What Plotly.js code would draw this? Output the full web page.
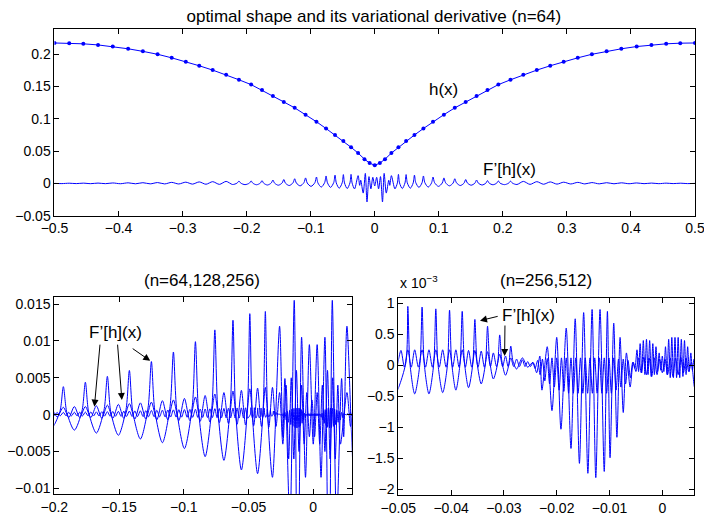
<!DOCTYPE html>
<html>
<head>
<meta charset="utf-8">
<script src="https://cdn.plot.ly/plotly-3.0.1.min.js"></script>
<style>html,body{margin:0;padding:0;background:#fff}#chart{width:704px;height:523px}</style>
</head>
<body>
<div id="chart"></div>
<script>
// ---------- data ----------
const hX = [-0.5,-0.477,-0.455,-0.432,-0.409,-0.385,-0.362,-0.339,-0.317,-0.295,-0.274,-0.253,-0.232,-0.212,-0.193,-0.176,-0.159,-0.142,-0.125,-0.108,-0.091,-0.076,-0.062,-0.049,-0.037,-0.026,-0.016,-0.008,0,
  0.008,0.016,0.026,0.037,0.049,0.062,0.076,0.091,0.108,0.125,0.142,0.159,0.176,0.193,0.212,0.232,0.253,0.274,0.295,0.317,0.339,0.362,0.385,0.409,0.432,0.455,0.477,0.5];
const hY = [0.2175,0.2172,0.2162,0.2145,0.2120,0.2085,0.2045,0.2000,0.1945,0.1885,0.1822,0.1755,0.1683,0.1605,0.1530,0.1445,0.1355,0.1262,0.1170,0.1065,0.0955,0.0850,0.0750,0.0655,0.0560,0.0470,0.0375,0.0315,0.0280,
  0.0315,0.0375,0.0470,0.0560,0.0655,0.0750,0.0850,0.0955,0.1065,0.1170,0.1262,0.1355,0.1445,0.1530,0.1605,0.1683,0.1755,0.1822,0.1885,0.1945,0.2000,0.2045,0.2085,0.2120,0.2145,0.2162,0.2172,0.2175];

// F'[h](x) for n=64 : [x, value]
const F64 = [
 [-0.5,0.0000],[-0.4885,-0.0003],[-0.477,0.0003],[-0.466,-0.0003],[-0.455,0.0004],[-0.4435,-0.0004],[-0.432,0.0005],[-0.4205,-0.0004],
 [-0.409,0.0007],[-0.397,-0.0005],[-0.385,0.0009],[-0.3735,-0.0006],[-0.362,0.0011],[-0.3505,-0.0007],[-0.339,0.0013],[-0.328,-0.0008],
 [-0.317,0.0016],[-0.306,-0.0009],[-0.295,0.0019],[-0.2845,-0.0011],[-0.274,0.0023],[-0.2635,-0.0013],[-0.253,0.0027],[-0.2425,-0.0015],
 [-0.232,0.0031],[-0.222,-0.0017],
 [-0.215,0.0004],[-0.212,0.0035],[-0.209,0.0003],[-0.2025,-0.0019],
 [-0.1957,0.0004],[-0.193,0.0038],[-0.1903,0.0003],[-0.1845,-0.0021],
 [-0.1786,0.0005],[-0.176,0.0044],[-0.1734,0.0003],[-0.1675,-0.0025],
 [-0.1616,0.0006],[-0.159,0.0052],[-0.1564,0.0004],[-0.1505,-0.0028],
 [-0.1446,0.0007],[-0.142,0.0060],[-0.1394,0.0004],[-0.1335,-0.0033],
 [-0.1276,0.0009],[-0.125,0.0072],[-0.1224,0.0006],[-0.1165,-0.0038],
 [-0.1106,0.0011],[-0.108,0.0085],[-0.1054,0.0006],[-0.0995,-0.0046],
 [-0.0934,0.0012],[-0.091,0.0099],[-0.0886,0.0005],[-0.0835,-0.0057],
 [-0.0782,0.0012],[-0.076,0.0115],[-0.0738,0.0009],[-0.069,-0.0062],
 [-0.064,0.0014],[-0.062,0.0128],[-0.060,0.0006],[-0.0555,-0.0075],
 [-0.0508,0.0010],[-0.049,0.0137],[-0.0472,0.0007],[-0.043,-0.0080],
 [-0.0387,0.0008],[-0.037,0.0140],[-0.0353,0.0005],[-0.0315,-0.0085],
 [-0.026,0.0120],[-0.0235,-0.0030],[-0.0219,0.0049],[-0.018,-0.0150],[-0.0147,0.0155],[-0.0121,-0.0287],[-0.009,0.0105],[-0.006,-0.0085],
 [-0.003,0.0095],[0,-0.0040],[0.003,0.0095],[0.006,-0.0085],[0.009,0.0105],[0.0121,-0.0287],[0.0147,0.0155],[0.018,-0.0150],
 [0.0219,0.0049],[0.0235,-0.0030],[0.026,0.0120],
 [0.0315,-0.0085],[0.0353,0.0005],[0.037,0.0140],[0.0387,0.0008],
 [0.043,-0.0080],[0.0472,0.0007],[0.049,0.0137],[0.0508,0.0010],
 [0.0555,-0.0075],[0.060,0.0006],[0.062,0.0128],[0.064,0.0014],
 [0.069,-0.0062],[0.0738,0.0009],[0.076,0.0115],[0.0782,0.0012],
 [0.0835,-0.0057],[0.0886,0.0005],[0.091,0.0099],[0.0934,0.0012],
 [0.0995,-0.0046],[0.1054,0.0006],[0.108,0.0085],[0.1106,0.0011],
 [0.1165,-0.0038],[0.1224,0.0006],[0.125,0.0072],[0.1276,0.0009],
 [0.1335,-0.0033],[0.1394,0.0004],[0.142,0.0060],[0.1446,0.0007],
 [0.1505,-0.0028],[0.1564,0.0004],[0.159,0.0052],[0.1616,0.0006],
 [0.1675,-0.0025],[0.1734,0.0003],[0.176,0.0044],[0.1786,0.0005],
 [0.1845,-0.0021],[0.1903,0.0003],[0.193,0.0038],[0.1957,0.0004],
 [0.2025,-0.0019],[0.209,0.0003],[0.212,0.0035],[0.215,0.0004],
 [0.222,-0.0017],[0.232,0.0031],[0.2425,-0.0015],[0.253,0.0027],[0.2635,-0.0013],[0.274,0.0023],[0.2845,-0.0011],[0.295,0.0019],[0.306,-0.0009],
 [0.317,0.0016],[0.328,-0.0008],[0.339,0.0013],[0.3505,-0.0007],[0.362,0.0011],[0.3735,-0.0006],[0.385,0.0009],[0.397,-0.0005],
 [0.409,0.0007],[0.4205,-0.0004],[0.432,0.0005],[0.4435,-0.0004],[0.455,0.0004],[0.466,-0.0003],[0.477,0.0003],[0.4885,-0.0003],[0.5,0.0000]
];

// n=128
const F128 = [
 [-0.212,0.0008],[-0.2073,-0.0003],[-0.2025,0.0009],[-0.1978,-0.0003],[-0.193,0.0010],[-0.1888,-0.0004],[-0.1845,0.0011],[-0.1803,-0.0004],
 [-0.176,0.0011],[-0.1718,-0.0004],[-0.1675,0.0012],[-0.1633,-0.0005],[-0.159,0.0013],[-0.1548,-0.0005],[-0.1505,0.0014],[-0.1463,-0.0005],
 [-0.142,0.0015],[-0.1378,-0.0006],[-0.1335,0.0016],[-0.1293,-0.0006],[-0.125,0.0017],[-0.1208,-0.0007],[-0.1165,0.0019],[-0.1123,-0.0007],
 [-0.108,0.0020],[-0.1038,-0.0008],[-0.0995,0.0022],[-0.0953,-0.0008],[-0.091,0.0024],[-0.0873,-0.0009],[-0.0835,0.0026],[-0.0798,-0.0010],
 [-0.076,0.0028],[-0.0725,-0.0011],[-0.069,0.0030],[-0.0655,-0.0012],[-0.062,0.0032],[-0.0588,-0.0013],[-0.0555,0.0033],[-0.0523,-0.0014],
 [-0.049,0.0035],[-0.046,-0.0015],[-0.043,0.0036],[-0.040,-0.0016],[-0.037,0.0037],[-0.0343,-0.0017],[-0.0315,0.0037],[-0.0288,-0.0016],
 [-0.026,0.0030],[-0.0235,-0.0040],[-0.021,0.0040],[-0.019,-0.0060],[-0.017,0.0050],[-0.015,-0.0060],[-0.013,0.0060],[-0.011,-0.0050],
 [-0.009,0.0040],[-0.007,-0.0040],[-0.005,0.0030],[-0.003,-0.0030],[-0.001,0.0020],[0.001,-0.0030],[0.003,0.0030],[0.005,-0.0040],
 [0.007,0.0040],[0.009,-0.0050],[0.011,0.0060],[0.013,-0.0060],[0.015,0.0050],[0.017,-0.0060],[0.019,0.0040],[0.021,-0.0040],
 [0.026,0.0030],[0.0288,-0.0016],[0.0315,0.0037]
];

// n=256
const F256 = [
 [-0.2073,0.00028],[-0.2049,-0.00014],[-0.2025,0.00029],[-0.2002,-0.00015],[-0.1978,0.00030],[-0.1954,-0.00015],[-0.193,0.00031],[-0.1909,-0.00016],
 [-0.1888,0.00032],[-0.1867,-0.00016],[-0.1845,0.00033],[-0.1824,-0.00017],[-0.1803,0.00034],[-0.1782,-0.00017],[-0.176,0.00035],[-0.1739,-0.00018],
 [-0.1718,0.00037],[-0.1697,-0.00018],[-0.1675,0.00038],[-0.1654,-0.00019],[-0.1633,0.00040],[-0.1612,-0.00020],[-0.159,0.00041],[-0.1569,-0.00021],
 [-0.1548,0.00043],[-0.1527,-0.00022],[-0.1505,0.00045],[-0.1484,-0.00023],[-0.1463,0.00047],[-0.1442,-0.00024],[-0.142,0.00049],[-0.1399,-0.00025],
 [-0.1378,0.00051],[-0.1357,-0.00026],[-0.1335,0.00053],[-0.1314,-0.00027],[-0.1293,0.00055],[-0.1272,-0.00028],[-0.125,0.00057],[-0.1229,-0.00029],
 [-0.1208,0.00059],[-0.1187,-0.00030],[-0.1165,0.00061],[-0.1144,-0.00031],[-0.1123,0.00063],[-0.1102,-0.00032],[-0.108,0.00065],[-0.1059,-0.00033],
 [-0.1038,0.00067],[-0.1017,-0.00034],[-0.0995,0.00069],[-0.0974,-0.00035],[-0.0953,0.00071],[-0.0932,-0.00036],[-0.091,0.00073],[-0.0892,-0.00037],
 [-0.0873,0.00075],[-0.0854,-0.00038],[-0.0835,0.00077],[-0.0817,-0.00039],[-0.0798,0.00079],[-0.0779,-0.00040],[-0.076,0.00081],[-0.0743,-0.00041],
 [-0.0725,0.00083],[-0.0708,-0.00042],[-0.069,0.00085],[-0.0673,-0.00043],[-0.0655,0.00087],[-0.0638,-0.00044],[-0.062,0.00089],[-0.0604,-0.00045],
 [-0.0588,0.00091],[-0.0572,-0.00046],[-0.0555,0.00092],[-0.0539,-0.00046],[-0.0523,0.00093],[-0.0507,-0.00047],
 [-0.0486,0.00003],[-0.0482,0.00095],[-0.0478,0.00003],[-0.0469,-0.00046],
 [-0.0459,0.00003],[-0.0455,0.00094],[-0.0451,0.00003],[-0.0442,-0.00046],
 [-0.0433,0.00002],[-0.0429,0.00091],[-0.0425,0.00003],[-0.0416,-0.00044],
 [-0.0407,0.00000],[-0.0403,0.00089],[-0.0399,0.00005],[-0.0391,-0.00040],
 [-0.0383,0.00004],[-0.0379,0.00087],[-0.0375,0.00007],[-0.0367,-0.00036],
 [-0.0359,0.00002],[-0.0355,0.00074],[-0.0351,0.00006],[-0.0343,-0.00030],
 [-0.0335,0.00003],[-0.0331,0.00063],[-0.0327,0.00008],[-0.0320,-0.00022],
 [-0.0312,0.00003],[-0.0308,0.00049],[-0.0304,0.00007],[-0.0297,-0.00016],
 [-0.0291,0.00000],[-0.0287,0.00031],[-0.0283,0.00007],[-0.0276,-0.00006],
 [-0.0265,0.00012],[-0.0255,-0.00003],[-0.0245,0.00005],[-0.0238,-0.00012],[-0.0232,0.00015],[-0.0228,-0.00040],
 [-0.0218,0.00030],[-0.0209,-0.00073],[-0.0200,0.00045],[-0.0192,-0.00103],[-0.0182,0.00060],[-0.0173,-0.00134],[-0.0165,0.00075],[-0.0157,-0.00158],
 [-0.0149,0.00085],[-0.0141,-0.00174],[-0.0133,0.00090],[-0.0126,-0.00181],[-0.0118,0.00090],[-0.0110,-0.00171],[-0.0104,0.00087],[-0.0099,-0.00149],
 [-0.0092,0.00068],[-0.0086,-0.00116],[-0.0080,0.00045],[-0.0074,-0.00076],[-0.0068,0.00020],[-0.0061,-0.00035],[-0.0055,0.00005],
 [-0.0050,-0.00010],[-0.0045,0.00012],[-0.0040,-0.00012],[-0.0035,0.00013],[-0.0030,-0.00015],[-0.0025,0.00012],[-0.0020,-0.00018],[-0.0015,0.00012],
 [-0.0010,-0.00015],[-0.0005,0.00010],[0,-0.00012],[0.0005,0.00010],[0.0010,-0.00015],[0.0015,0.00012],[0.0020,-0.00018],[0.0025,0.00012],
 [0.0030,-0.00015],[0.0035,0.00013],[0.0040,-0.00012],[0.0045,0.00012],[0.0050,-0.00010],
 [0.0055,0.00005],[0.0061,-0.00035],[0.0068,0.00020],[0.0074,-0.00076],[0.0080,0.00045],[0.0086,-0.00116],[0.0092,0.00068],[0.0099,-0.00149],
 [0.0104,0.00087],[0.0110,-0.00171],[0.0118,0.00090],[0.0126,-0.00181],[0.0133,0.00090],[0.0141,-0.00174],[0.0149,0.00085],[0.0157,-0.00158],
 [0.0165,0.00075],[0.0173,-0.00134],[0.0182,0.00060],[0.0192,-0.00103],[0.0200,0.00045],[0.0209,-0.00073],[0.0218,0.00030],[0.0228,-0.00040],
 [0.0232,0.00015],[0.0238,-0.00012],[0.0245,0.00005],[0.0255,-0.00003],[0.0265,0.00012],[0.0276,-0.00006],[0.0287,0.00031],[0.0297,-0.00016],[0.0308,0.00049]
];

// n=512
const F512 = [
 [-0.0502,-0.00002],[-0.0495,0.00024],[-0.04885,-0.00003],[-0.0482,0.00025],[-0.04755,-0.00003],[-0.0469,0.00025],[-0.0462,-0.00003],[-0.0455,0.00025],
 [-0.04485,-0.00003],[-0.0442,0.00025],[-0.04355,-0.00003],[-0.0429,0.00025],[-0.04225,-0.00003],[-0.0416,0.00025],[-0.04095,-0.00003],[-0.0403,0.00025],
 [-0.0397,-0.00003],[-0.0391,0.00025],[-0.0385,-0.00003],[-0.0379,0.00025],[-0.0373,-0.00003],[-0.0367,0.00024],[-0.0361,-0.00003],[-0.0355,0.00024],
 [-0.0349,-0.00003],[-0.0343,0.00023],[-0.0337,-0.00003],[-0.0331,0.00022],[-0.03255,-0.00002],[-0.0320,0.00020],[-0.0314,-0.00002],[-0.0308,0.00018],
 [-0.03025,-0.00002],[-0.0297,0.00015],[-0.0292,-0.00002],[-0.0287,0.00012],[-0.02815,-0.00002],[-0.0276,0.00010],[-0.02705,-0.00002],[-0.0265,0.00009],
 [-0.0260,-0.00002],[-0.0255,0.00006],[-0.0250,-0.00002],[-0.0245,0.00004],[-0.0241,-0.00005],
 [-0.0236,0.00008],[-0.02315,-0.00015],[-0.0227,0.00010],[-0.02225,-0.00025],[-0.0218,0.00011],[-0.02135,-0.00030],[-0.0209,0.00012],[-0.02045,-0.00035],
 [-0.0200,0.00012],[-0.01955,-0.00040],[-0.0191,0.00012],[-0.01865,-0.00042],[-0.0182,0.00012],[-0.01775,-0.00045],[-0.0173,0.00012],[-0.01685,-0.00045],
 [-0.0164,0.00012],[-0.01595,-0.00045],[-0.0155,0.00012],[-0.01505,-0.00045],[-0.0146,0.00012],[-0.01415,-0.00045],[-0.0137,0.00012],[-0.01325,-0.00045],
 [-0.0128,0.00012],[-0.01235,-0.00045],[-0.0119,0.00012],[-0.01145,-0.00045],[-0.0110,0.00012],[-0.01055,-0.00045],[-0.0101,0.00012],[-0.00965,-0.00045],
 [-0.0092,0.00012],[-0.00875,-0.00040],[-0.0083,0.00010],[-0.00785,-0.00035],[-0.0074,0.00010],[-0.00695,-0.00030],[-0.0065,0.00008],[-0.00605,-0.00020],
 [-0.0056,0.00005],
 [-0.0052,-0.00005],[-0.0048,0.00025],[-0.0045,-0.00010],[-0.0042,0.00035],[-0.0039,-0.00012],[-0.0036,0.00040],[-0.0033,-0.00015],[-0.0030,0.00042],
 [-0.0027,-0.00015],[-0.0024,0.00040],[-0.0021,-0.00018],[-0.0018,0.00035],[-0.0015,-0.00015],[-0.0012,0.00030],[-0.0009,-0.00010],[-0.0006,0.00020],
 [-0.0003,-0.00008],[0,0.00015],[0.0003,-0.00010],[0.0006,0.00030],[0.0009,-0.00015],[0.0012,0.00042],[0.0015,-0.00020],[0.0018,0.00045],
 [0.0021,-0.00020],[0.0024,0.00045],[0.0027,-0.00020],[0.0030,0.00045],[0.0033,-0.00020],[0.0036,0.00042],[0.0039,-0.00018],[0.0042,0.00040],
 [0.0045,-0.00015],[0.0048,0.00030],[0.0051,-0.00010],[0.0054,0.00020],[0.0057,-0.00008],[0.0060,0.00010],[0.0063,-0.00005]
];

// tick values / labels
const topXTicks = [-0.5,-0.4,-0.3,-0.2,-0.1,0,0.1,0.2,0.3,0.4,0.5];
const topYTicks = [-0.05,0,0.05,0.1,0.15,0.2];
const blXTicks = [-0.2,-0.15,-0.1,-0.05,0];
const blYTicks = [-0.01,-0.005,0,0.005,0.01,0.015];
const brXTicks = [-0.05,-0.04,-0.03,-0.02,-0.01,0];
const brYTicks = [-0.002,-0.0015,-0.001,-0.0005,0,0.0005,0.001];
const brYLabels = ['\u22122','\u22121.5','\u22121','\u22120.5','0','0.5','1'];

// ---------- drawing ----------
const blue = 'rgb(0,0,255)';
const xs = a => a.map(p => p[0]);
const ys = a => a.map(p => p[1]);
const lineStyle = {color: blue, width: 1, shape: 'spline', smoothing: 0.8};

const traces = [
  {x: hX, y: hY, xaxis: 'x', yaxis: 'y', mode: 'lines+markers', line: {color: blue, width: 1}, marker: {color: blue, size: 4}},
  {x: xs(F64), y: ys(F64), xaxis: 'x', yaxis: 'y', mode: 'lines', line: lineStyle},
  {x: xs(F64), y: ys(F64), xaxis: 'x2', yaxis: 'y2', mode: 'lines', line: lineStyle},
  {x: xs(F128), y: ys(F128), xaxis: 'x2', yaxis: 'y2', mode: 'lines', line: lineStyle},
  {x: xs(F256), y: ys(F256), xaxis: 'x2', yaxis: 'y2', mode: 'lines', line: lineStyle},
  {x: xs(F256), y: ys(F256), xaxis: 'x3', yaxis: 'y3', mode: 'lines', line: lineStyle},
  {x: xs(F512), y: ys(F512), xaxis: 'x3', yaxis: 'y3', mode: 'lines', line: lineStyle}
];

const ax = {
  showline: true, mirror: 'ticks', linecolor: '#000', linewidth: 1,
  ticks: 'inside', ticklen: 5, tickwidth: 1, tickcolor: '#000',
  zeroline: false, showgrid: false, fixedrange: true, ticklabeloverflow: 'allow',
  tickfont: {size: 14, color: '#000'}
};

const arrow = {text: '', showarrow: true, arrowhead: 2, arrowsize: 1.4, arrowwidth: 1, arrowcolor: '#000', standoff: 0, startstandoff: 0};

const layout = {
  width: 704, height: 523,
  margin: {l: 0, r: 0, t: 0, b: 0},
  paper_bgcolor: '#fff', plot_bgcolor: '#fff',
  showlegend: false,
  font: {family: 'Liberation Sans, Arial, Helvetica, sans-serif', size: 14, color: '#000'},
  title: {text: 'optimal shape and its variational derivative (n=64)', font: {size: 17, color: '#000'},
          x: 0.531, xanchor: 'center', y: 0.970, yanchor: 'middle', xref: 'paper', yref: 'container'},
  xaxis: Object.assign({}, ax, {domain: [0.0774, 0.9872], range: [-0.5, 0.5], anchor: 'y', tickvals: topXTicks}),
  yaxis: Object.assign({}, ax, {domain: [0.5876, 0.9446], range: [-0.05, 0.2392], anchor: 'x', tickvals: topYTicks}),
  xaxis2: Object.assign({}, ax, {domain: [0.0771, 0.4996], range: [-0.2, 0.0297], anchor: 'y2', tickvals: blXTicks}),
  yaxis2: Object.assign({}, ax, {domain: [0.0549, 0.4327], range: [-0.0108, 0.0160], anchor: 'x2', tickvals: blYTicks}),
  xaxis3: Object.assign({}, ax, {domain: [0.5658, 0.9858], range: [-0.05, 0.006], anchor: 'y3', tickvals: brXTicks}),
  yaxis3: Object.assign({}, ax, {domain: [0.0535, 0.4308], range: [-0.00209, 0.00109], anchor: 'x3', tickvals: brYTicks, ticktext: brYLabels}),
  annotations: [
    {text: '(n=64,128,256)', xref: 'paper', yref: 'paper', x: 0.2866, y: 0.4631, xanchor: 'center', yanchor: 'middle', showarrow: false, font: {size: 17}},
    {text: '(n=256,512)', xref: 'paper', yref: 'paper', x: 0.7756, y: 0.4631, xanchor: 'center', yanchor: 'middle', showarrow: false, font: {size: 17}},
    {text: 'x 10<sup>\u22123</sup>', xref: 'paper', yref: 'paper', x: 0.5650, y: 1 - 293/523, xanchor: 'left', yanchor: 'bottom', showarrow: false, font: {size: 14}},
    {text: 'h(x)', xref: 'x', yref: 'y', x: 0.108, y: 0.145, showarrow: false, font: {size: 17}},
    {text: 'F\u2019[h](x)', xref: 'x', yref: 'y', x: 0.211, y: 0.022, showarrow: false, font: {size: 17}},
    {text: 'F\u2019[h](x)', xref: 'x2', yref: 'y2', x: -0.153, y: 0.01117, showarrow: false, font: {size: 17}},
    Object.assign({}, arrow, {xref: 'x2', yref: 'y2', x: -0.169, y: 0.00109, axref: 'x2', ayref: 'y2', ax: -0.1646, ay: 0.0097}),
    Object.assign({}, arrow, {xref: 'x2', yref: 'y2', x: -0.1478, y: 0.0020, axref: 'x2', ayref: 'y2', ax: -0.1512, ay: 0.0097}),
    Object.assign({}, arrow, {xref: 'x2', yref: 'y2', x: -0.1259, y: 0.0073, axref: 'x2', ayref: 'y2', ax: -0.1406, ay: 0.0091}),
    {text: 'F\u2019[h](x)', xref: 'x3', yref: 'y3', x: -0.0254, y: 0.00081, showarrow: false, font: {size: 17}},
    Object.assign({}, arrow, {xref: 'x3', yref: 'y3', x: -0.03453, y: 0.00072, axref: 'x3', ayref: 'y3', ax: -0.0309, ay: 0.000795}),
    Object.assign({}, arrow, {xref: 'x3', yref: 'y3', x: -0.02987, y: 0.00015, axref: 'x3', ayref: 'y3', ax: -0.0298, ay: 0.000666})
  ]
};

Plotly.newPlot('chart', traces, layout, {staticPlot: true, displayModeBar: false});
</script>
</body>
</html>
